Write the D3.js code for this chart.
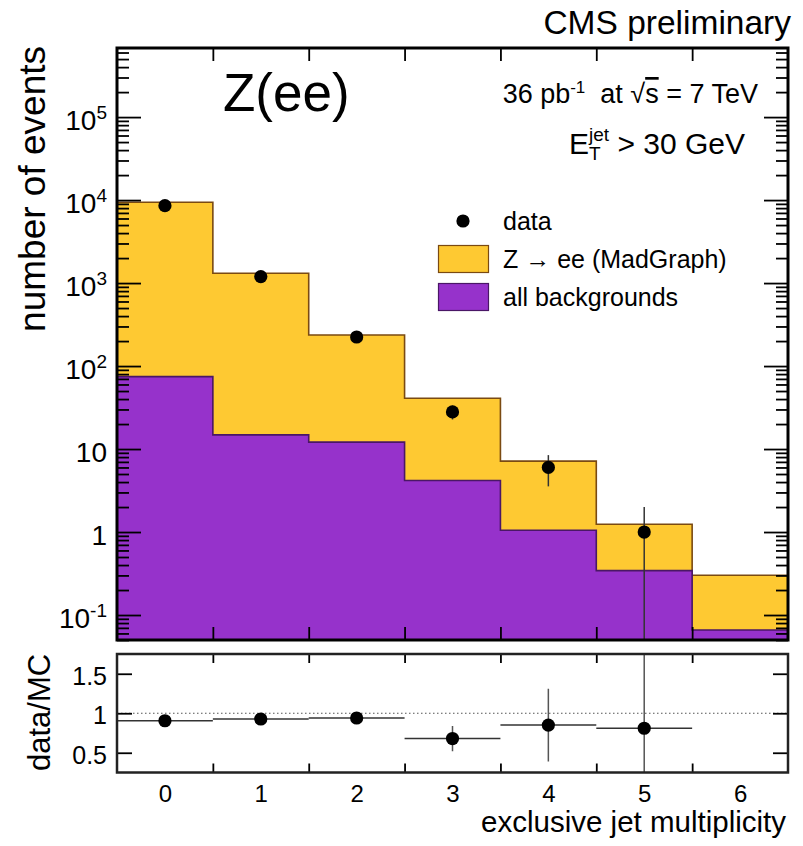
<!DOCTYPE html>
<html>
<head>
<meta charset="utf-8">
<script src="https://cdn.jsdelivr.net/npm/d3@7"></script>
<style>
  body { margin: 0; background: #fff; }
  svg text { font-family: 'Liberation Sans', Arial, Helvetica, sans-serif; fill: #000; }
</style>
</head>
<body>
<svg id="chart"></svg>
<script>
// exclusive jet multiplicity bins
const bins = [0, 1, 2, 3, 4, 5, 6]
const zee = [9345, 1300, 225, 36.8, 6.1, 0.9, 0.236]          // Z -> ee (MadGraph)
const bkg = [74.6, 14.8, 12.1, 4.17, 1.05, 0.343, 0.066]     // all backgrounds
const dataBins = [0, 1, 2, 3, 4, 5]
const dataVals = [8570, 1196, 224, 28, 6, 1]
const dataErr = [93, 35, 15, 5.3, 2.45, 1]
const ratioVals = [0.905, 0.927, 0.94, 0.68, 0.85, 0.81]
const ratioErr = [0.01, 0.03, 0.065, 0.16, 0.46, 1.0]
const yMajor = [0.1, 1, 10, 100, 1e3, 1e4, 1e5]
const yLabels = [['10', '-1'], ['1'], ['10'], ['10', '2'], ['10', '3'], ['10', '4'], ['10', '5']]
const xLabels = ['0', '1', '2', '3', '4', '5', '6']
const ratioTicks = [0.5, 1, 1.5]
const ratioLabels = ['0.5', '1', '1.5']
const legendItems = [
  {type: 'dot', label: 'data'},
  {type: 'zee', label: 'Z \u2192 ee (MadGraph)'},
  {type: 'bkg', label: 'all backgrounds'}
]

const width = 803
const height = 846
const left = 117, right = 788
const mainTop = 48, mainBottom = 640
const ratioTop = 654, ratioBottom = 772.5
const yellow = '#fec932', yellowLine = '#7a4a12'
const purple = '#9632cb', purpleLine = '#4a1766'
const font = "'Liberation Sans', Arial, Helvetica, sans-serif"

const x = d3.scaleLinear([-0.5, 6.5], [left, right])
const y = d3.scaleLog([0.05, 6.8e5], [mainBottom, mainTop])
const yr = d3.scaleLinear([0.25, 1.75], [ratioBottom, ratioTop])

const svg = d3.select('#chart')
    .attr('width', width)
    .attr('height', height)
    .attr('viewBox', [0, 0, width, height])

svg.append('clipPath').attr('id', 'clipMain')
  .append('rect').attr('x', left).attr('y', mainTop)
  .attr('width', right - left).attr('height', mainBottom - mainTop)
svg.append('clipPath').attr('id', 'clipRatio')
  .append('rect').attr('x', left).attr('y', ratioTop)
  .attr('width', right - left).attr('height', ratioBottom - ratioTop)

// histogram steps
const steps = vals => vals.flatMap((v, i) => [[bins[i] - 0.5, v], [bins[i] + 0.5, v]])
const totals = zee.map((v, i) => v + bkg[i])
const area = d3.area().x(d => x(d[0])).y0(mainBottom).y1(d => y(d[1]))
const line = d3.line().x(d => x(d[0])).y(d => y(d[1]))

const gMain = svg.append('g').attr('clip-path', 'url(#clipMain)')
gMain.append('path').attr('d', area(steps(totals))).attr('fill', yellow)
gMain.append('path').attr('d', line(steps(totals))).attr('fill', 'none')
  .attr('stroke', yellowLine).attr('stroke-width', 1.6)
gMain.append('path').attr('d', area(steps(bkg))).attr('fill', purple)
gMain.append('path').attr('d', line(steps(bkg))).attr('fill', 'none')
  .attr('stroke', purpleLine).attr('stroke-width', 1.6)

// data points
const lowY = v => y(Math.max(v, y.domain()[0]))
gMain.selectAll('.err').data(dataBins).join('line')
  .attr('x1', d => x(d)).attr('x2', d => x(d))
  .attr('y1', (d, i) => y(dataVals[i] + dataErr[i]))
  .attr('y2', (d, i) => lowY(dataVals[i] - dataErr[i]))
  .attr('stroke', '#333').attr('stroke-width', 1.5)
gMain.selectAll('.pt').data(dataBins).join('circle')
  .attr('cx', d => x(d)).attr('cy', (d, i) => y(dataVals[i]))
  .attr('r', 6.6).attr('fill', '#000')

// axes of the main pad
const edges = bins.slice(1).map(b => b - 0.5)
const minor = y.ticks().filter(t => !yMajor.some(m => Math.abs(m - t) / m < 1e-6))
const styleAxis = g => {
  g.select('.domain').remove()
  g.selectAll('.tick line').attr('stroke', '#000').attr('stroke-width', 1.8)
  g.attr('font-family', font)
}

svg.append('g').attr('transform', `translate(${left},0)`)
  .call(d3.axisLeft(y).tickValues(yMajor).tickSize(-24).tickPadding(10))
  .call(styleAxis)
  .attr('font-size', 28)
  .call(g => g.selectAll('.tick text')
    .attr('dy', '0.45em')
    .text('')
    .each(function (d, i) {
      const t = d3.select(this)
      t.append('tspan').text(yLabels[i][0])
      if (yLabels[i][1]) t.append('tspan').attr('font-size', 19).attr('dy', -11).text(yLabels[i][1])
    }))
svg.append('g').attr('transform', `translate(${left},0)`)
  .call(d3.axisLeft(y).tickValues(minor).tickSize(-12).tickFormat(''))
  .call(styleAxis)
svg.append('g').attr('transform', `translate(${right},0)`)
  .call(d3.axisRight(y).tickValues(yMajor).tickSize(-24).tickFormat(''))
  .call(styleAxis)
svg.append('g').attr('transform', `translate(${right},0)`)
  .call(d3.axisRight(y).tickValues(minor).tickSize(-12).tickFormat(''))
  .call(styleAxis)
svg.append('g').attr('transform', `translate(0,${mainTop})`)
  .call(d3.axisTop(x).tickValues(edges).tickSize(-13).tickFormat(''))
  .call(styleAxis)
svg.append('g').attr('transform', `translate(0,${mainBottom})`)
  .call(d3.axisBottom(x).tickValues(edges).tickSize(-13).tickFormat(''))
  .call(styleAxis)

svg.append('rect')
  .attr('x', left).attr('y', mainTop)
  .attr('width', right - left).attr('height', mainBottom - mainTop)
  .attr('fill', 'none').attr('stroke', '#000').attr('stroke-width', 3)

// ratio pad
const gRatio = svg.append('g').attr('clip-path', 'url(#clipRatio)')
gRatio.append('line')
  .attr('x1', left).attr('x2', right).attr('y1', yr(1)).attr('y2', yr(1))
  .attr('stroke', '#555').attr('stroke-width', 1.2).attr('stroke-dasharray', '1.5,2.5')
gRatio.selectAll('.hbar').data(dataBins).join('line')
  .attr('x1', d => x(d - 0.5)).attr('x2', d => x(d + 0.5))
  .attr('y1', (d, i) => yr(ratioVals[i])).attr('y2', (d, i) => yr(ratioVals[i]))
  .attr('stroke', '#333').attr('stroke-width', 1.5)
gRatio.selectAll('.vbar').data(dataBins).join('line')
  .attr('x1', d => x(d)).attr('x2', d => x(d))
  .attr('y1', (d, i) => yr(ratioVals[i] + ratioErr[i]))
  .attr('y2', (d, i) => yr(ratioVals[i] - ratioErr[i]))
  .attr('stroke', '#555').attr('stroke-width', 1.5)
gRatio.selectAll('.rpt').data(dataBins).join('circle')
  .attr('cx', d => x(d)).attr('cy', (d, i) => yr(ratioVals[i]))
  .attr('r', 6.6).attr('fill', '#000')

svg.append('g').attr('transform', `translate(${left},0)`)
  .call(d3.axisLeft(yr).tickValues(ratioTicks).tickSize(-15).tickPadding(10)
    .tickFormat((d, i) => ratioLabels[i]))
  .call(styleAxis)
  .attr('font-size', 25)
  .call(g => g.selectAll('.tick text').attr('dy', '0.42em'))
svg.append('g').attr('transform', `translate(${right},0)`)
  .call(d3.axisRight(yr).tickValues(ratioTicks).tickSize(-15).tickFormat(''))
  .call(styleAxis)
svg.append('g').attr('transform', `translate(0,${ratioTop})`)
  .call(d3.axisTop(x).tickValues(edges).tickSize(-9).tickFormat(''))
  .call(styleAxis)
svg.append('g').attr('transform', `translate(0,${ratioBottom})`)
  .call(d3.axisBottom(x).tickValues(edges).tickSize(-9).tickFormat(''))
  .call(styleAxis)
svg.append('g').attr('transform', `translate(0,${ratioBottom})`)
  .call(d3.axisBottom(x).tickValues(bins).tickSize(0).tickPadding(12)
    .tickFormat((d, i) => xLabels[i]))
  .call(styleAxis)
  .attr('font-size', 24)

svg.append('rect')
  .attr('x', left).attr('y', ratioTop)
  .attr('width', right - left).attr('height', ratioBottom - ratioTop)
  .attr('fill', 'none').attr('stroke', '#222').attr('stroke-width', 2.5)

// titles
svg.append('text')
  .attr('transform', 'translate(45,46) rotate(-90)')
  .attr('text-anchor', 'end').attr('font-size', 37)
  .text('number of events')
svg.append('text')
  .attr('transform', 'translate(50,771) rotate(-90)')
  .attr('text-anchor', 'start').attr('font-size', 31)
  .text('data/MC')
svg.append('text')
  .attr('x', 786).attr('y', 832)
  .attr('text-anchor', 'end').attr('font-size', 29.5)
  .text('exclusive jet multiplicity')
svg.append('text')
  .attr('x', 791).attr('y', 34)
  .attr('text-anchor', 'end').attr('font-size', 33.5)
  .text('CMS preliminary')
svg.append('text')
  .attr('x', 223).attr('y', 111)
  .attr('font-size', 53)
  .text('Z(ee)')

const lumi = svg.append('text')
  .attr('x', 758).attr('y', 103)
  .attr('text-anchor', 'end').attr('font-size', 27)
  .style('white-space', 'pre')
lumi.append('tspan').text('36 pb')
lumi.append('tspan').attr('font-size', 17).attr('dy', -10).text('-1')
lumi.append('tspan').attr('dy', 10).text('  at \u221a')
lumi.append('tspan').style('text-decoration', 'overline').text('s')
lumi.append('tspan').text(' = 7 TeV')

const et = svg.append('text')
  .attr('x', 745).attr('y', 154)
  .attr('text-anchor', 'end').attr('font-size', 30)
  .style('white-space', 'pre')
et.append('tspan').text('E')
const sub = et.append('tspan').attr('font-size', 19).attr('dy', 6).text('T')
const subW = sub.node().getComputedTextLength()
et.append('tspan').attr('font-size', 19).attr('dx', -subW).attr('dy', -19).text('jet')
et.append('tspan').attr('dy', 13).text(' > 30 GeV')

// legend
const leg = svg.append('g').attr('font-size', 25).attr('font-family', font)
const rowY = i => 221 + 38 * i
legendItems.forEach((item, i) => {
  const cy = rowY(i)
  if (item.type === 'dot') {
    leg.append('circle').attr('cx', 463).attr('cy', cy).attr('r', 6.6).attr('fill', '#000')
  } else {
    leg.append('rect')
      .attr('x', 438.5).attr('y', cy - 13.5).attr('width', 50).attr('height', 27)
      .attr('fill', item.type === 'zee' ? yellow : purple)
      .attr('stroke', item.type === 'zee' ? yellowLine : purpleLine).attr('stroke-width', 1.2)
  }
  leg.append('text').attr('x', 503).attr('y', cy + 8.5).text(item.label)
})
</script>
</body>
</html>
